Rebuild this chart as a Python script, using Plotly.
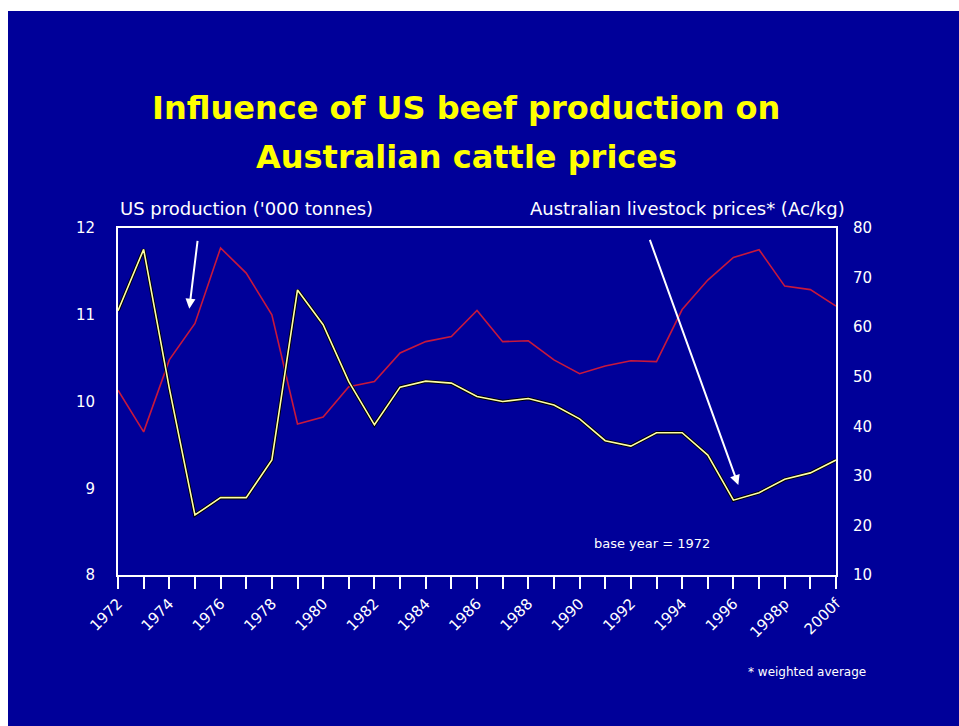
import plotly.graph_objects as go

# ---- data ----
years = list(range(1972, 2001))
us_production = [10.13, 9.65, 10.48, 10.90, 11.77, 11.48, 11.00, 9.74, 9.82, 10.17,
                 10.23, 10.56, 10.69, 10.75, 11.05, 10.69, 10.70, 10.48, 10.32, 10.41,
                 10.47, 10.46, 11.06, 11.40, 11.66, 11.75, 11.33, 11.29, 11.10]
aus_prices = [63.3, 75.7, 47.7, 22.1, 25.6, 25.6, 33.2, 67.5, 60.5, 49.0,
              40.3, 47.9, 49.1, 48.7, 46.0, 45.0, 45.6, 44.3, 41.5, 37.1,
              36.0, 38.7, 38.7, 34.2, 25.1, 26.6, 29.3, 30.6, 33.2]
tick_labels = ["1972", "", "1974", "", "1976", "", "1978", "", "1980", "", "1982", "",
               "1984", "", "1986", "", "1988", "", "1990", "", "1992", "", "1994", "",
               "1996", "", "1998p", "", "2000f"]

NAVY = "#000099"
WHITE = "#ffffff"
FONT = "DejaVu Sans"

fig = go.Figure()

fig.add_trace(go.Scatter(x=years, y=us_production, mode="lines",
                         line=dict(color="#c8183c", width=1.6),
                         name="US production", yaxis="y", showlegend=False))
# dark outline under the yellow line
fig.add_trace(go.Scatter(x=years, y=aus_prices, mode="lines",
                         line=dict(color="#000000", width=3.5),
                         yaxis="y2", showlegend=False, hoverinfo="skip"))
fig.add_trace(go.Scatter(x=years, y=aus_prices, mode="lines",
                         line=dict(color="#ffffa8", width=1.6),
                         name="Australian livestock prices", yaxis="y2", showlegend=False))

# plot area: 118..836 x 228..575 px of a 959x726 page
fig.update_layout(
    width=959, height=726,
    paper_bgcolor=NAVY, plot_bgcolor=NAVY,
    margin=dict(l=118, r=123, t=228, b=151, autoexpand=False),
    font=dict(family=FONT, color=WHITE, size=14),
    xaxis=dict(range=[1972, 2000], tickvals=years, ticktext=tick_labels,
               tickangle=-45, ticks="outside", ticklen=12, tickwidth=2,
               tickcolor=WHITE, showline=True, linecolor=WHITE, linewidth=2,
               mirror=True, showgrid=False, zeroline=False,
               tickfont=dict(family=FONT, size=15, color=WHITE)),
    yaxis=dict(range=[8, 12], dtick=1, showline=True, linecolor=WHITE, linewidth=2,
               showgrid=False, zeroline=False, ticks="", ticklabelstandoff=18,
               tickfont=dict(family=FONT, size=15, color=WHITE)),
    yaxis2=dict(range=[10, 80], dtick=10, overlaying="y", side="right",
                showline=True, linecolor=WHITE, linewidth=2, showgrid=False,
                zeroline=False, ticks="", ticklabelstandoff=12,
                tickfont=dict(family=FONT, size=15, color=WHITE)),
    shapes=[
        # white slide border at the top and left
        dict(type="rect", xref="paper", yref="paper", x0=-0.2, x1=1.2,
             y0=1.6254, y1=1.66, fillcolor=WHITE, line=dict(width=0)),
        dict(type="rect", xref="paper", yref="paper", x0=-0.17, x1=-0.1532,
             y0=-0.45, y1=1.66, fillcolor=WHITE, line=dict(width=0)),
    ],
)

annotations = [
    dict(text="Influence of US beef production on", x=0.4847, y=1.345,
         font=dict(family=FONT, size=32, color="#ffff00", weight="bold")),
    dict(text="Australian cattle prices", x=0.4847, y=1.206,
         font=dict(family=FONT, size=32, color="#ffff00", weight="bold")),
    dict(text="US production ('000 tonnes)", x=0.0, y=1.0548, xanchor="left",
         font=dict(family=FONT, size=18, color=WHITE)),
    dict(text="Australian livestock prices* (Ac/kg)", x=1.0153, y=1.0548,
         xanchor="right", font=dict(family=FONT, size=18, color=WHITE)),
    dict(text="base year = 1972", x=0.7437, y=0.0922,
         font=dict(family=FONT, size=13, color=WHITE)),
    dict(text="* weighted average", x=1.0446, y=-0.2795, xanchor="right",
         font=dict(family=FONT, size=12, color=WHITE)),
]
for a in annotations:
    a.setdefault("xanchor", "center")
    a.update(xref="paper", yref="paper", yanchor="middle", showarrow=False)
    fig.add_annotation(**a)

# pointer arrows (tip and tail given in axis units)
fig.add_annotation(x=1974.78, y=11.07, ax=1975.11, ay=11.87, xref="x", yref="y",
                   axref="x", ayref="y", showarrow=True, arrowhead=2, arrowsize=1,
                   arrowwidth=2, arrowcolor=WHITE, text="")
fig.add_annotation(x=1996.19, y=28.15, ax=1992.72, ay=77.9, xref="x", yref="y2",
                   axref="x", ayref="y2", showarrow=True, arrowhead=2, arrowsize=1,
                   arrowwidth=2, arrowcolor=WHITE, text="")

fig.write_html(
    "out.html",
    config={"displayModeBar": False},
    post_script="document.body.style.margin='0';document.body.style.overflow='hidden';"
                "document.documentElement.style.background='#000099';",
)
